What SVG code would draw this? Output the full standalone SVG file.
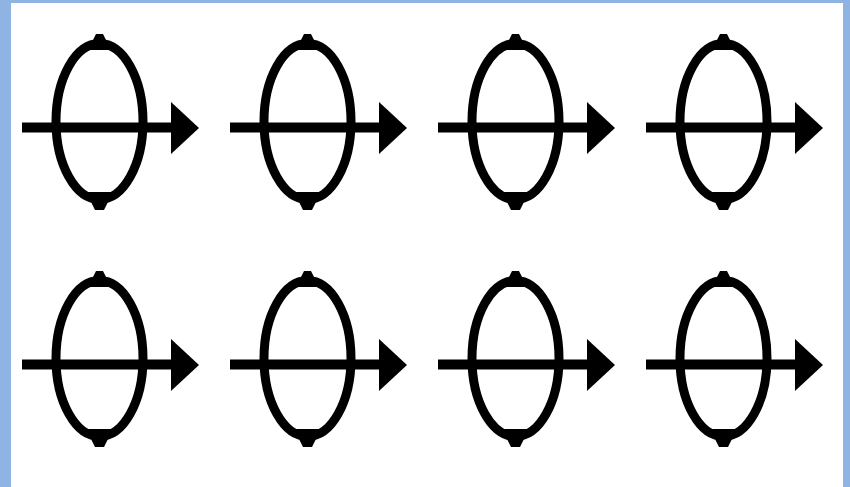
<svg xmlns="http://www.w3.org/2000/svg" xmlns:xlink="http://www.w3.org/1999/xlink" width="850" height="487" viewBox="0 0 850 487">
<style>
.ring{fill:none;stroke:#000;stroke-width:9}
.shaft{stroke:#000;stroke-width:10;fill:none}
.head{fill:#000}
.tick{fill:#000}
</style>
<defs>
<g id="sym">
<ellipse class="ring" cx="99.5" cy="121.5" rx="43.5" ry="78"/>
<polygon class="tick" points="88,50 111,50 103,34 96,34"/>
<polygon class="tick" points="86,192 113,192 104,210 95,210"/>
</g>
<g id="arr">
<line class="shaft" x1="22" y1="127.5" x2="174" y2="127.5"/>
<polygon class="head" points="171,102 199,128 171,154"/>
</g>
</defs>
<rect x="0" y="0" width="850" height="487" fill="#8fb4e3"/>
<rect x="11" y="3" width="832" height="484" fill="#fff"/>
<g id="node-1-1" transform="translate(0,0)"><use xlink:href="#sym"/></g>
<g id="node-1-2" transform="translate(208,0)"><use xlink:href="#sym"/></g>
<g id="node-1-3" transform="translate(416,0)"><use xlink:href="#sym"/></g>
<g id="node-1-4" transform="translate(624,0)"><use xlink:href="#sym"/></g>
<g id="node-2-1" transform="translate(0,237)"><use xlink:href="#sym"/></g>
<g id="node-2-2" transform="translate(208,237)"><use xlink:href="#sym"/></g>
<g id="node-2-3" transform="translate(416,237)"><use xlink:href="#sym"/></g>
<g id="node-2-4" transform="translate(624,237)"><use xlink:href="#sym"/></g>
<g id="connectors">
<use xlink:href="#arr" transform="translate(0,0)"/>
<use xlink:href="#arr" transform="translate(208,0)"/>
<use xlink:href="#arr" transform="translate(416,0)"/>
<use xlink:href="#arr" transform="translate(624,0)"/>
<use xlink:href="#arr" transform="translate(0,237)"/>
<use xlink:href="#arr" transform="translate(208,237)"/>
<use xlink:href="#arr" transform="translate(416,237)"/>
<use xlink:href="#arr" transform="translate(624,237)"/>
</g>
</svg>
